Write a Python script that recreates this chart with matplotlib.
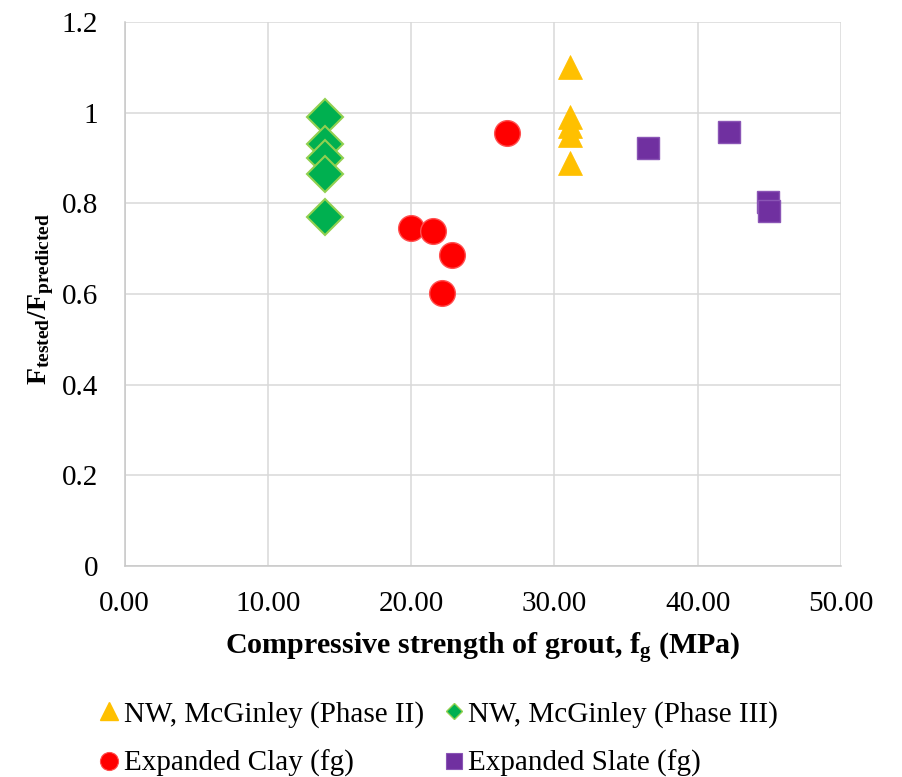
import matplotlib
matplotlib.use("Agg")
import matplotlib.pyplot as plt
from matplotlib.lines import Line2D
from matplotlib.ticker import FixedLocator, FuncFormatter

plt.rcParams['font.family'] = ['Liberation Serif', 'DejaVu Serif']
plt.rcParams['mathtext.fontset'] = 'custom'
plt.rcParams['mathtext.rm'] = 'Liberation Serif:bold'
plt.rcParams['mathtext.it'] = 'Liberation Serif:bold'
plt.rcParams['mathtext.bf'] = 'Liberation Serif:bold'
plt.rcParams['mathtext.default'] = 'rm'

# ---- data ----
phase2_x = [31.1, 31.1, 31.1, 31.1, 31.1]
phase2_y = [1.10, 0.99, 0.97, 0.95, 0.89]

phase3_x = [14.0, 14.0, 14.0, 14.0, 14.0]
phase3_y = [0.99, 0.93, 0.90, 0.865, 0.77]

clay_x = [26.7, 20.0, 21.5, 22.85, 22.15]
clay_y = [0.955, 0.746, 0.739, 0.686, 0.602]

slate_x = [36.5, 42.2, 44.9, 45.0]
slate_y = [0.921, 0.958, 0.804, 0.783]

x_ticks = [0, 10, 20, 30, 40, 50]
y_ticks = [0, 0.2, 0.4, 0.6, 0.8, 1.0, 1.2]

labels = ["NW, McGinley (Phase II)", "NW, McGinley (Phase III)",
          "Expanded Clay (fg)", "Expanded Slate (fg)"]

c_yellow = '#FFC000'
c_green = '#00B050'
c_green_edge = '#92D050'
c_red = '#FF0000'
c_purple = '#7030A0'
grid_c = '#D9D9D9'

fig = plt.figure(figsize=(9.02, 7.77), dpi=100)
ax = fig.add_axes([124.5 / 902, 1 - 566 / 777, (841 - 124.5) / 902, (566 - 22) / 777])

ax.plot(phase3_x, phase3_y, linestyle='none', marker='D', ms=18.5,
        mfc=c_green, mec=c_green_edge, mew=1.5, zorder=3)
ax.plot(clay_x, clay_y, linestyle='none', marker='o', ms=18.5,
        mfc=c_red, mec='#FF5050', mew=1.0, zorder=3)
ax.plot(phase2_x, phase2_y, linestyle='none', marker='^', ms=17,
        mfc=c_yellow, mec=c_yellow, mew=0.5, zorder=3)
ax.plot(slate_x, slate_y, linestyle='none', marker='s', ms=16.5,
        mfc=c_purple, mec='#8A55B5', mew=1.0, zorder=3)

ax.set_xlim(0, 50)
ax.set_ylim(0, 1.2)
ax.xaxis.set_major_locator(FixedLocator(x_ticks))
ax.yaxis.set_major_locator(FixedLocator(y_ticks))
ax.xaxis.set_major_formatter(FuncFormatter(lambda v, p: f"{v:.2f}"))
ax.yaxis.set_major_formatter(FuncFormatter(lambda v, p: f"{v:g}"))
ax.tick_params(axis='both', length=0, labelsize=21, colors='#000000')
ax.tick_params(axis='x', pad=18)
ax.tick_params(axis='y', pad=19)

ax.grid(True, color=grid_c, linewidth=1.1, zorder=0)
ax.set_axisbelow(True)
for s in ['top', 'right']:
    ax.spines[s].set_visible(False)
for s in ['left', 'bottom']:
    ax.spines[s].set_color('#C8C8C8')
    ax.spines[s].set_linewidth(1.1)

ax.set_xlabel(r'Compressive strength of grout, f$_{g}$ (MPa)', fontsize=21.6,
              fontweight='bold')
ax.xaxis.set_label_coords(0.5, (566 - 649) / 544)
ax.xaxis.label.set_verticalalignment('center')

ax.set_ylabel(r'F$_{tested}$/F$_{predicted}$', fontsize=20, fontweight='bold')
ax.yaxis.set_label_coords((41 - 124.5) / 716.5, 0.49)
ax.yaxis.label.set_verticalalignment('center')
ax.yaxis.label.set_horizontalalignment('center')

h_tri = Line2D([], [], linestyle='none', marker='^', ms=13, mfc=c_yellow, mec=c_yellow)
h_dia = Line2D([], [], linestyle='none', marker='D', ms=8, mfc=c_green, mec=c_green_edge, mew=1)
h_cir = Line2D([], [], linestyle='none', marker='o', ms=13, mfc=c_red, mec='#FF5050', mew=0.8)
h_sq = Line2D([], [], linestyle='none', marker='s', ms=11, mfc=c_purple, mec='#8A55B5', mew=0.8)

fig.legend([h_tri, h_cir, h_dia, h_sq], [labels[0], labels[2], labels[1], labels[3]],
           ncol=2, loc='upper left', bbox_to_anchor=(97.5 / 902, 1 - 701 / 777),
           frameon=False, fontsize=21, handlelength=0.8, handletextpad=0.1,
           columnspacing=0.62, labelspacing=0.75, borderpad=0, borderaxespad=0)

fig.savefig('out.png', dpi=100)
